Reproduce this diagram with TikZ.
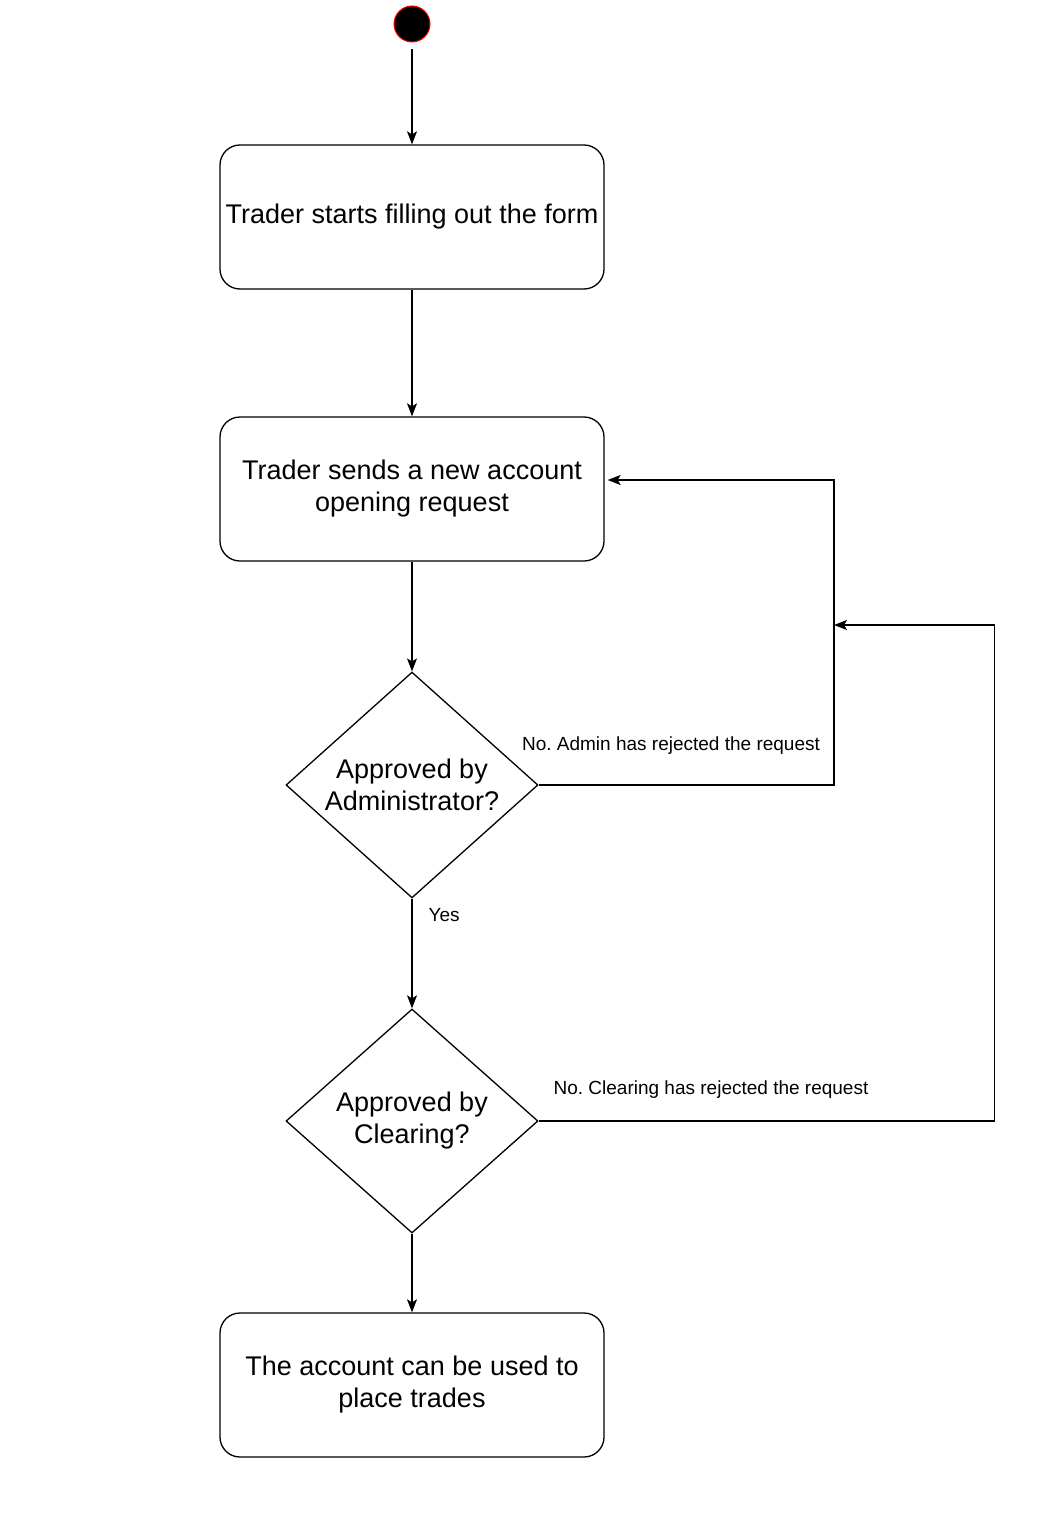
\documentclass[tikz,border=0pt]{standalone}
\usepackage{fontspec}
\setmainfont{Liberation Sans}
\usetikzlibrary{arrows.meta,shapes.geometric}
\frenchspacing
\begin{document}
\begin{tikzpicture}[x=1pt,y=-1pt,
  stepbox/.style={draw, line width=1.3pt, rounded corners=20pt, minimum width=384pt, minimum height=144pt, align=center, font=\fontsize{27}{32}\selectfont, inner sep=0pt},
  decision/.style={draw, line width=1.3pt, diamond, minimum width=252pt, minimum height=224pt, inner sep=0pt, align=center, font=\fontsize{27}{32}\selectfont},
  flow/.style={line width=1.3pt, -{Stealth[length=13pt,width=10pt,inset=3pt]}},
  edgelabel/.style={font=\fontsize{19}{23}\selectfont, inner sep=0pt}]
  \useasboundingbox (0,0) rectangle (1044,1514);

  % start state
  \node[circle, fill=black, draw=red, line width=1pt, minimum size=36pt, inner sep=0pt] (start) at (412,24) {};
  \coordinate (startout) at (412,49);

  % activities and decisions
  \node[stepbox] (fill) at (412,217) {Trader starts filling out the form};
  \node[stepbox] (send) at (412,489) {Trader sends a new account\\opening request};
  \node[decision] (admin) at (412,785) {Approved by\\Administrator?};
  \node[decision] (clear) at (412,1121) {Approved by\\Clearing?};
  \node[stepbox] (done) at (412,1385) {The account can be used to\\place trades};

  % main flow
  \draw[flow] (startout) -- (fill.north);
  \draw[flow] (fill.south) -- (send.north);
  \draw[flow] (send.south) -- (admin.north);
  \draw[flow] (admin.south) -- node[edgelabel, pos=0.15, right=16pt] {Yes} (clear.north);
  \draw[flow] (clear.south) -- (done.north);

  % rejection loops
  \coordinate (adminback) at (834,480);
  \coordinate (clearback) at (834,625);
  \draw[flow] (admin.east) -- (admin.east -| adminback) -- (adminback) -- ([xshift=3pt]send.east |- adminback);
  \draw[flow] (clear.east) -- ++(456,0) |- (clearback);

  \node[edgelabel] (adminlbl) at (671,746) {No. Admin has rejected the request};
  \node[edgelabel] (clearlbl) at (711,1090) {No. Clearing has rejected the request};
\end{tikzpicture}
\end{document}
